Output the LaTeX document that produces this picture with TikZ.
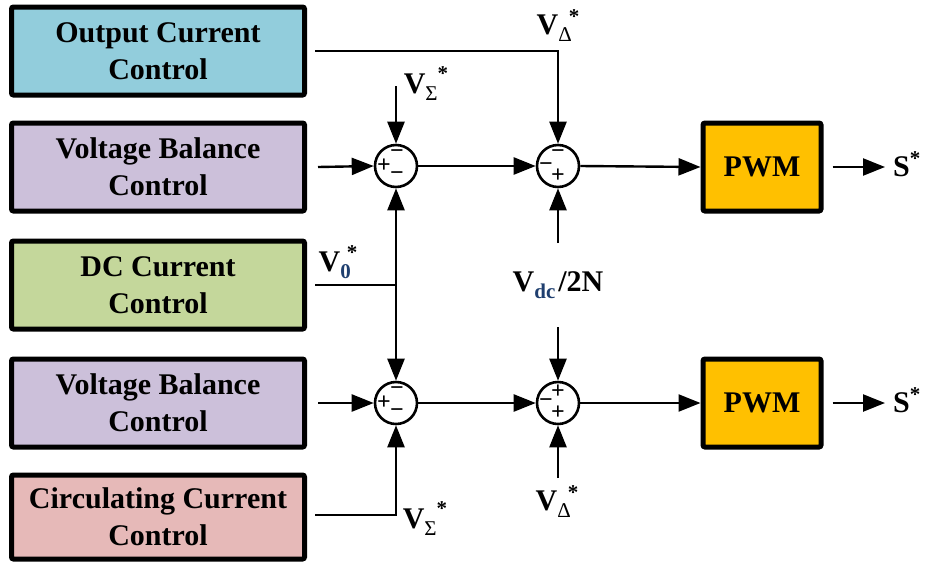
\documentclass[tikz,border=0pt]{standalone}
\usepackage{fontspec}
\setmainfont{Liberation Serif}
\usetikzlibrary{arrows.meta}
\definecolor{cblue}{HTML}{92CDDC}
\definecolor{cpurple}{HTML}{CCC0DA}
\definecolor{cgreen}{HTML}{C4D79B}
\definecolor{cpink}{HTML}{E6B9B8}
\definecolor{corange}{HTML}{FFC000}
\definecolor{csub}{HTML}{1F3F6F}
\newcommand{\bigf}{\fontsize{30}{37}\selectfont\bfseries}
\newcommand{\subf}{\fontsize{21}{22}\selectfont}
\tikzset{
  ctrlbox/.style={draw, line width=5pt, rounded corners=2pt, minimum width=293pt, minimum height=88pt, align=center, font=\bigf, inner sep=0pt},
  pwmbox/.style={draw, line width=5pt, rounded corners=2pt, fill=corange, minimum width=118pt, minimum height=88pt, font=\bigf, inner sep=0pt},
  sumnode/.style={draw, circle, line width=2.6pt, minimum size=42pt, inner sep=0pt},
  sig/.style={font=\fontsize{24}{24}\selectfont\bfseries, inner sep=0pt},
  conn/.style={line width=2.4pt},
  arr/.style={line width=2.4pt, -{Triangle[length=22pt,width=17pt]}},
  lbl/.style={font=\bigf, inner sep=0pt}
}
\begin{document}
\begin{tikzpicture}[x=1pt,y=-1pt]
\useasboundingbox (0,0) rectangle (925,563);
% control boxes
\node[ctrlbox, fill=cblue]   (b1) at (158,51)  {Output Current\\Control};
\node[ctrlbox, fill=cpurple] (b2) at (158,167) {Voltage Balance\\Control};
\node[ctrlbox, fill=cgreen]  (b3) at (158,285) {DC Current\\Control};
\node[ctrlbox, fill=cpurple] (b4) at (158,403) {Voltage Balance\\Control};
\node[ctrlbox, fill=cpink, minimum height=84pt] (b5) at (158,517) {Circulating Current\\Control};
% summing junctions
\node[sumnode] (s1) at (396,166) {};
\node[sumnode] (s2) at (558,166) {};
\node[sumnode] (s3) at (396,403) {};
\node[sumnode] (s4) at (558,403) {};
% signs (canvas yshift: positive = up)
\node[sig] at ([xshift=-12pt]s1.center) {+};
\node[sig] at ([xshift=1pt,yshift=12pt]s1.center) {−};
\node[sig] at ([xshift=1pt,yshift=-10pt]s1.center) {−};
\node[sig] at ([yshift=12pt]s2.center) {−};
\node[sig] at ([xshift=-12pt,yshift=-1pt]s2.center) {−};
\node[sig] at ([xshift=0pt,yshift=-10pt]s2.center) {+};
\node[sig] at ([xshift=-12pt]s3.center) {+};
\node[sig] at ([xshift=1pt,yshift=12pt]s3.center) {−};
\node[sig] at ([xshift=1pt,yshift=-10pt]s3.center) {−};
\node[sig] at ([xshift=0pt,yshift=11pt]s4.center) {+};
\node[sig] at ([xshift=-12pt]s4.center) {−};
\node[sig] at ([xshift=0pt,yshift=-10pt]s4.center) {+};
% PWM
\node[pwmbox] (p1) at (762,167) {PWM};
\node[pwmbox] (p2) at (762,403) {PWM};
% outputs
\coordinate (o1) at (885,167);
\coordinate (o2) at (885,403);
\node[lbl, anchor=west] (S1) at (893,164) {S\raisebox{11pt}{\subf *}};
\node[lbl, anchor=west] (S2) at (893,400) {S\raisebox{11pt}{\subf *}};
\draw[arr] ([xshift=9pt]p1.east) -- (o1);
\draw[arr] ([xshift=9pt]p2.east) -- (o2);
% chain arrows
\draw[arr] (s1.east) -- (s2.west);
\draw[arr] (s3.east) -- (s4.west);
\draw[arr] (s2.east) -- (p1.west);
\draw[arr] (s4.east) -- (p2.west);
% inputs from boxes
\draw[arr] ([xshift=11pt]b2.east) -- (s1.west);
\draw[arr] ([xshift=11pt]b4.east) -- (s3.west);
% output current control -> s2
\draw[arr] ([xshift=8pt]b1.east) -| (s2.north);
\node[lbl] (ld1) at (558,26) {V\raisebox{-7pt}{\subf\mdseries Δ}\kern-3pt\raisebox{11pt}{\subf *}};
% V_Sigma top
\coordinate (vs1) at (396,86);
\draw[arr] (vs1) -- (s1.north);
\node[lbl] (ls1) at (426,84) {V\raisebox{-7pt}{\subf\mdseries Σ}\raisebox{13pt}{\subf *}};
% DC current line
\coordinate (j) at (396,285);
\draw[conn] ([xshift=8pt]b3.east |- j) -- (j);
\draw[arr] (j) -- (s1.south);
\draw[arr] (j) -- (s3.north);
\node[lbl] (l0) at (338,262) {V\raisebox{-7pt}{\subf\color{csub} 0}\kern-4pt\raisebox{12pt}{\subf *}};
% Vdc/2N
\node[lbl] (ldc) at (558,285) {V\raisebox{-7pt}{\subf\color{csub} dc}\kern3pt/2N};
\coordinate (dc1) at (558,243);
\coordinate (dc2) at (558,327);
\draw[arr] (dc1) -- (s2.south);
\draw[arr] (dc2) -- (s4.north);
% circulating current -> s3
\draw[arr] ([xshift=8pt]b5.east |- 0,515) -| (s3.south);
\node[lbl] (ls2) at (425,519) {V\raisebox{-7pt}{\subf\mdseries Σ}\raisebox{13pt}{\subf *}};
% V_Delta bottom
\coordinate (vd2) at (558,478);
\draw[arr] (vd2) -- (s4.south);
\node[lbl] (ld2) at (557,502) {V\raisebox{-7pt}{\subf\mdseries Δ}\kern-3pt\raisebox{11pt}{\subf *}};
\end{tikzpicture}
\end{document}
